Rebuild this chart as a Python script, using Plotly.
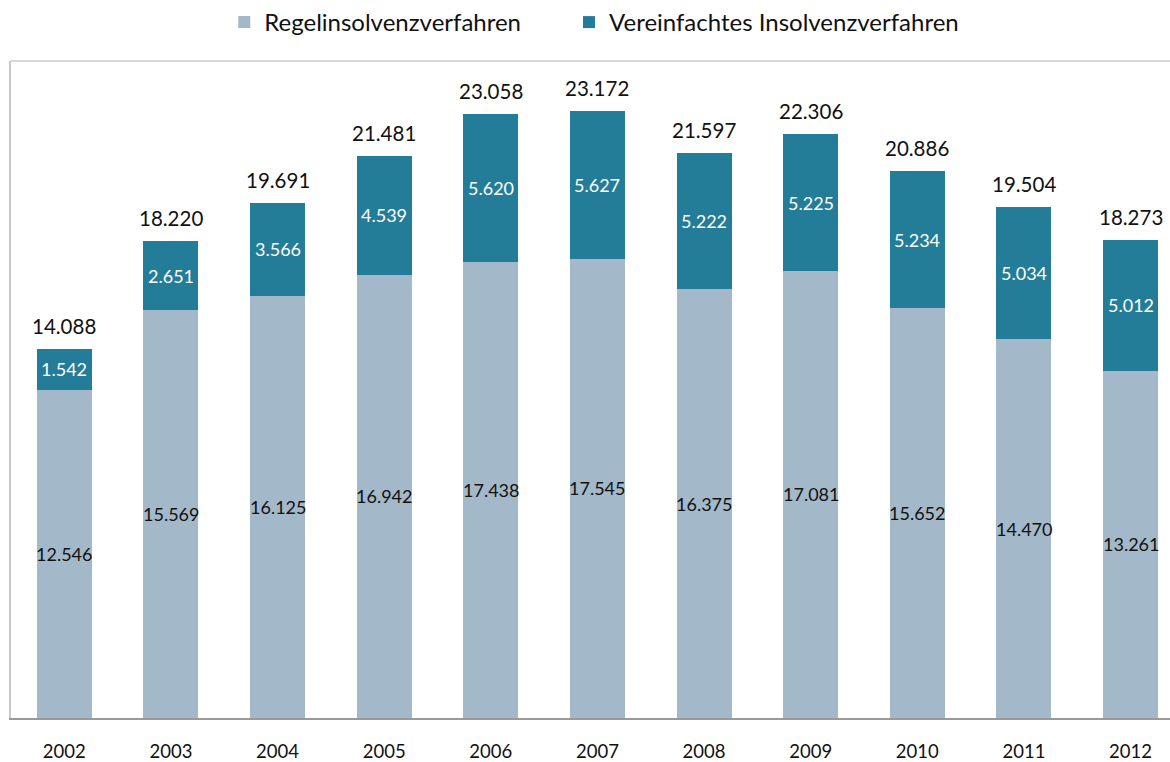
import plotly.graph_objects as go

years = ["2002", "2003", "2004", "2005", "2006", "2007", "2008", "2009", "2010", "2011", "2012"]
regel = [12546, 15569, 16125, 16942, 17438, 17545, 16375, 17081, 15652, 14470, 13261]
vereinfacht = [1542, 2651, 3566, 4539, 5620, 5627, 5222, 5225, 5234, 5034, 5012]
totals = [14088, 18220, 19691, 21481, 23058, 23172, 21597, 22306, 20886, 19504, 18273]

def de(n):
    return f"{n:,}".replace(",", ".")

FONT = "Lato"
fig = go.Figure()
fig.add_trace(go.Bar(
    x=years, y=regel, name="Regelinsolvenzverfahren" + "\u00a0" * 7,
    marker=dict(color="#a3b8c8", line=dict(width=0)),
))
fig.add_trace(go.Bar(
    x=years, y=vereinfacht, name="Vereinfachtes Insolvenzverfahren",
    marker=dict(color="#237c98", line=dict(width=0)),
))
for i, (r, v, t) in enumerate(zip(regel, vereinfacht, totals)):
    fig.add_annotation(x=i, y=r / 2, text=de(r), showarrow=False, yanchor="middle",
                       font=dict(size=18, color="#111111", family=FONT))
    fig.add_annotation(x=i, y=r + v / 2, text=de(v), showarrow=False, yanchor="middle",
                       font=dict(size=18, color="white", family=FONT))
    fig.add_annotation(x=i, y=t, text=de(t), showarrow=False,
                       yanchor="bottom", yshift=9,
                       font=dict(size=20.5, color="#111111", family=FONT))

# top border of plot area
fig.add_shape(type="line", xref="paper", yref="paper", x0=0, x1=1, y0=1, y1=1,
              line=dict(color="#c8c8c8", width=1.5))

fig.update_layout(
    barmode="stack", bargap=0.485,
    width=1170, height=762,
    margin=dict(l=11, r=0, t=61, b=42),
    paper_bgcolor="white", plot_bgcolor="white",
    font=dict(family=FONT, color="#111111"),
    legend=dict(orientation="h", x=0.184, xanchor="left", y=1.0, yanchor="top",
                yref="container", font=dict(size=24, family=FONT),
                itemwidth=30, traceorder="normal"),
    xaxis=dict(type="category", showline=True, linecolor="#999999", linewidth=1.5,
               range=[-0.5, 10.37], ticks="", ticklabelstandoff=16,
               tickfont=dict(size=18.5, family=FONT, color="#111111")),
    yaxis=dict(range=[0, 25100], showgrid=False, showticklabels=False, zeroline=False,
               showline=True, linecolor="#c8c8c8", linewidth=1.5),
)
fig.write_html("out.html", config={"displayModeBar": False},
               post_script="document.body.style.margin='0';")
